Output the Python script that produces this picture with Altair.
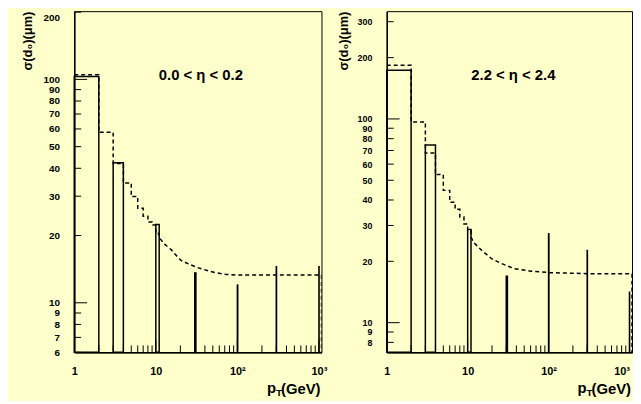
import altair as alt
import pandas as pd

BG = "#ffffcc"
FONT = "Liberation Sans"
H = 345
X_MIN, X_MAX = 1, 1075

# ---------------- data: left panel (0.0 < eta < 0.2) ----------------
L_bin_lo = [1, 3, 10, 30, 100, 300, 1000]
L_bin_hi = [2, 4, 11, 31, 101, 302, 1004]
L_sigma = [103, 42.3, 22.4, 13.6, 12.0, 14.5, 14.5]
L_step_edges = [1, 2, 3, 4, 5, 6, 7, 8, 9, 10, 11]
L_step_vals = [105, 58, 42, 34.4, 29.9, 26.5, 24.4, 23.0, 22.3, 20.4]
L_curve_pt = [11, 12.8, 15.4, 16.5, 20.2, 25.5, 32, 44, 56, 73, 100, 300, 1000, 1075]
L_curve_val = [19.6, 18.3, 17.3, 16.8, 15.5, 14.9, 14.4, 13.9, 13.6, 13.4, 13.3, 13.3, 13.3, 13.3]
L_ydom = [6, 202]
L_ylabels = [6, 7, 8, 9, 10, 20, 30, 40, 50, 60, 70, 80, 90, 100, 200]
L_text = "0.0 < \u03b7 < 0.2"

# ---------------- data: right panel (2.2 < eta < 2.4) ----------------
R_bin_lo = [1, 3, 10, 30, 100, 300, 1000]
R_bin_hi = [2, 4, 11, 31, 101, 302, 1004]
R_sigma = [173.5, 74.5, 28.7, 16.9, 27.3, 22.6, 14.1]
R_step_edges = [1, 2, 3, 4, 5, 6, 7, 8, 9, 10, 11]
R_step_vals = [183.5, 96.7, 68, 53.3, 44.6, 39, 36, 33, 30.5, 28.3]
R_curve_pt = [11, 11.8, 15.0, 19.8, 26.2, 38, 60.6, 106, 300, 1000, 1075]
R_curve_val = [26.3, 24.8, 22.6, 20.6, 19.5, 18.4, 17.9, 17.6, 17.4, 17.4, 17.4]
R_ydom = [7.15, 338]
R_ylabels = [8, 9, 10, 20, 30, 40, 50, 60, 70, 80, 90, 100, 200, 300]
R_text = "2.2 < \u03b7 < 2.4"

X_LABELS = [1, 10, 100, 1000]
X_MINOR = [2, 3, 4, 5, 6, 7, 8, 9, 20, 30, 40, 50, 60, 70, 80, 90,
           200, 300, 400, 500, 600, 700, 800, 900]
X_MAJOR = [10, 100, 1000]


def panel(lo, hi, sig, edges, svals, cpt, cval, ydom, ylabels, label, title_x, w,
          last_align, ylab_size):
    xs = alt.Scale(type="log", domain=[X_MIN, X_MAX], nice=False)
    ys = alt.Scale(type="log", domain=ydom, nice=False)

    bars = pd.DataFrame({"lo": lo, "hi": hi, "s": sig})
    path_x, path_y = [], []
    for i, v in enumerate(svals):
        path_x += [edges[i], edges[i + 1]]
        path_y += [v, v]
    path_x += list(cpt) + [X_MAX]
    path_y += list(cval) + [ydom[0]]
    dashed = pd.DataFrame({"x": path_x, "y": path_y, "i": range(len(path_x))})

    major_y = [v for v in ylabels if v in (10, 100)]
    minor_y = [v for v in ylabels if v not in (10, 100)]

    xaxis = alt.Axis(values=X_LABELS, title=None, grid=False, ticks=False, tickSize=0,
                     labelExpr="datum.value == 1 ? '1' : datum.value == 10 ? '10' : datum.value == 100 ? '10\u00b2' : '10\u00b3'",
                     labelAlign={"condition": {"test": "datum.value == 1000", "value": last_align}, "value": "center"},
                     labelFont=FONT, labelFontSize=11, labelFontWeight="bold", labelColor="black",
                     labelPadding=13, labelFlush=False, labelOverlap=False,
                     domainColor="black", domainWidth=1.5)
    top_val = ylabels[-1]
    yaxis = alt.Axis(values=ylabels, title="\u03c3(d\u2080)(\u03bcm)", grid=False, ticks=False, tickSize=0,
                     format="d", labelFont=FONT, labelFontSize=ylab_size, labelFontWeight="bold",
                     labelBaseline={"condition": {"test": f"datum.value >= {top_val} && {top_val} > {ydom[1]} * 0.9",
                                                  "value": "top"}, "value": "middle"},
                     labelColor="black", labelPadding=15, labelFlush=False, labelOverlap=False,
                     domainColor="black", domainWidth=1.5,
                     titleFont=FONT, titleFontSize=13, titleFontWeight="bold", titleColor="black",
                     titleAngle=-90, titleAlign="right", titleBaseline="bottom",
                     titleX=title_x, titleY=0)

    base_x = lambda f: alt.X(f, scale=xs, axis=xaxis)
    base_y = lambda f: alt.Y(f, scale=ys, axis=yaxis)

    rect = alt.Chart(bars).mark_rect(fillOpacity=0, stroke="black", strokeWidth=1.5).encode(
        x=base_x("lo:Q"),
        x2="hi:Q",
        y=base_y("s:Q"),
        y2=alt.value(H),
    )
    line = alt.Chart(dashed).mark_line(color="black", strokeWidth=1.5, strokeDash=[4, 3], clip=True).encode(
        x=base_x("x:Q"),
        y=base_y("y:Q"),
        order="i:Q",
    )
    xminor = alt.Chart(pd.DataFrame({"v": X_MINOR})).mark_rule(color="black", strokeWidth=1).encode(
        x=base_x("v:Q"), y=alt.value(H), y2=alt.value(H - 7))
    xmajor = alt.Chart(pd.DataFrame({"v": X_MAJOR})).mark_rule(color="black", strokeWidth=1).encode(
        x=base_x("v:Q"), y=alt.value(H), y2=alt.value(H - 13))
    yminor = alt.Chart(pd.DataFrame({"v": minor_y})).mark_rule(color="black", strokeWidth=1).encode(
        y=base_y("v:Q"), x=alt.value(0), x2=alt.value(7))
    ymajor = alt.Chart(pd.DataFrame({"v": major_y})).mark_rule(color="black", strokeWidth=1).encode(
        y=base_y("v:Q"), x=alt.value(0), x2=alt.value(13))

    ann = alt.Chart(pd.DataFrame({"t": [label]})).mark_text(
        font=FONT, fontSize=15, fontWeight="bold", color="black", align="center", baseline="middle"
    ).encode(text="t:N", x=alt.value(128), y=alt.value(65))

    t_gev = alt.Chart(pd.DataFrame({"t": ["(GeV)"]})).mark_text(
        font=FONT, fontSize=15, fontWeight="bold", color="black", align="right", baseline="alphabetic"
    ).encode(text="t:N", x=alt.value(w - 1), y=alt.value(H + 42))
    t_sub = alt.Chart(pd.DataFrame({"t": ["T"]})).mark_text(
        font=FONT, fontSize=10, fontWeight="bold", color="black", align="right", baseline="alphabetic"
    ).encode(text="t:N", x=alt.value(w - 40), y=alt.value(H + 44))
    t_p = alt.Chart(pd.DataFrame({"t": ["p"]})).mark_text(
        font=FONT, fontSize=15, fontWeight="bold", color="black", align="right", baseline="alphabetic"
    ).encode(text="t:N", x=alt.value(w - 46), y=alt.value(H + 41))

    return alt.layer(rect, line, xminor, xmajor, yminor, ymajor, ann, t_gev, t_sub, t_p).properties(
        width=w, height=H)


left = panel(L_bin_lo, L_bin_hi, L_sigma, L_step_edges, L_step_vals, L_curve_pt, L_curve_val,
             L_ydom, L_ylabels, L_text, -40, 250, "center", 10)
right = panel(R_bin_lo, R_bin_hi, R_sigma, R_step_edges, R_step_vals, R_curve_pt, R_curve_val,
              R_ydom, R_ylabels, R_text, -37, 248, "right", 9)

chart = alt.hconcat(left, right, spacing=66, bounds="flush").configure(
    background=BG, padding={"left": 13, "top": 0, "right": 0, "bottom": 0}
).configure_view(stroke="black", strokeWidth=1)

chart.save("out.html", embed_options={"renderer": "svg", "actions": False})
